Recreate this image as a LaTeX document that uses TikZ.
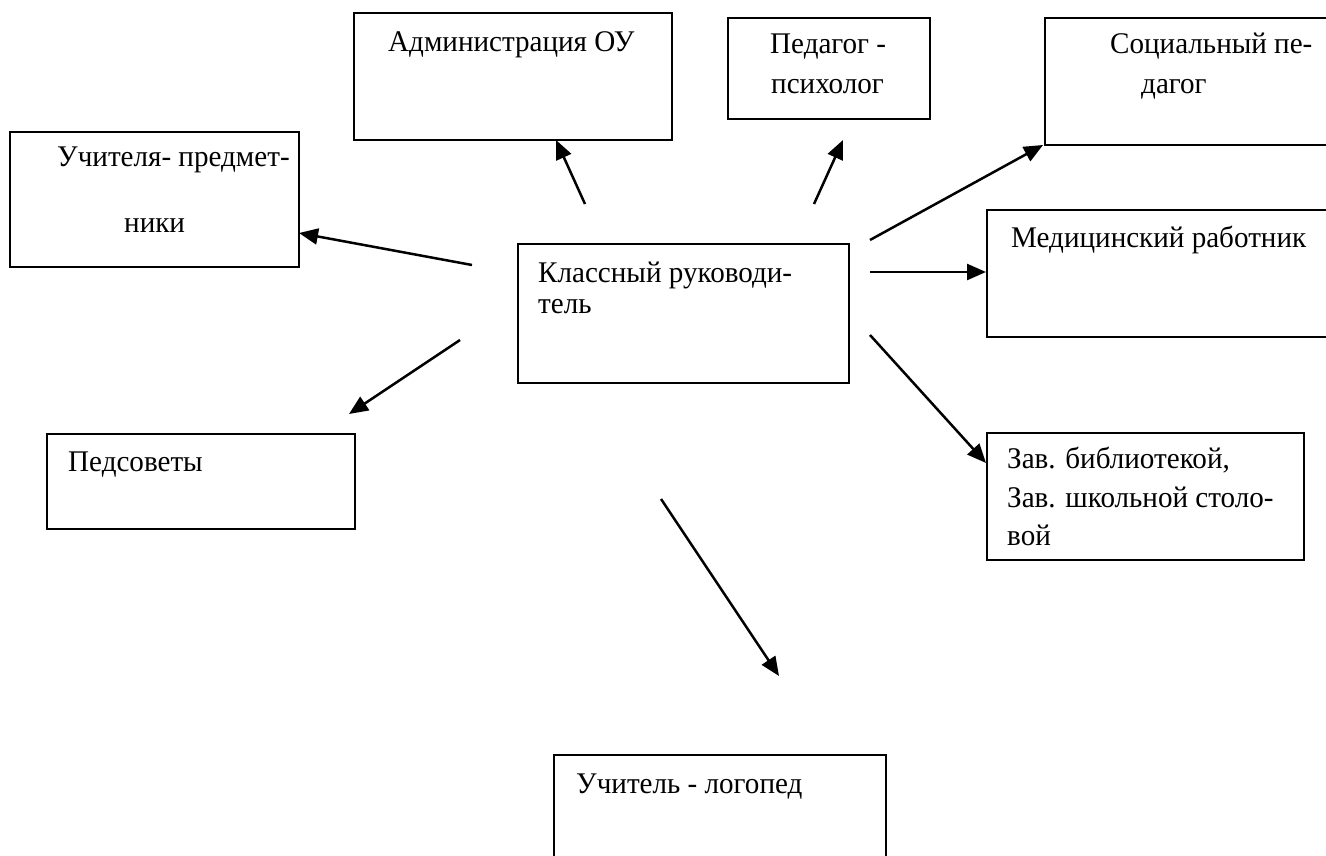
\documentclass[tikz,border=0pt]{standalone}
\usepackage{fontspec}
\setmainfont{Liberation Serif}
\newfontfamily\boxfont[FakeStretch=0.97]{Liberation Serif}
\usetikzlibrary{arrows.meta}
\tikzset{
  box/.style={draw, line width=1.7pt, anchor=north west, inner sep=0pt},
  txt/.style={anchor=base west, inner sep=0pt, font=\boxfont\fontsize{30}{34}\selectfont},
  link/.style={line width=2.5pt, -{Triangle[length=19pt,width=16pt]}}
}
\begin{document}
\begin{tikzpicture}[x=1pt, y=-1pt]
  \useasboundingbox (0,0) rectangle (1326,856);

  % boxes
  \node[box, minimum width=318pt, minimum height=127pt] (adm) at (353,12) {};
  \node[box, minimum width=202pt, minimum height=101pt] (psy) at (727,17) {};
  \node[box, minimum width=320pt, minimum height=127pt] (soc) at (1044,17) {};
  \node[box, minimum width=289pt, minimum height=135pt] (uch) at (9,131) {};
  \node[box, minimum width=331pt, minimum height=139pt] (kr) at (517,243) {};
  \node[box, minimum width=360pt, minimum height=127pt] (med) at (986,209) {};
  \node[box, minimum width=308pt, minimum height=95pt] (ped) at (46,433) {};
  \node[box, minimum width=317pt, minimum height=127pt] (zav) at (986,432) {};
  \node[box, minimum width=332pt, minimum height=150pt] (log) at (553,754) {};

  % texts
  \node[txt] (adm-t) at (388,52) {Администрация ОУ};
  \node[txt] (psy-t1) at (770,54) {Педагог -};
  \node[txt] (psy-t2) at (771,94) {психолог};
  \node[txt] (soc-t1) at (1110,54) {Социальный пе-};
  \node[txt] (soc-t2) at (1141,94) {дагог};
  \node[txt] (uch-t1) at (57,167) {Учителя- предмет-};
  \node[txt] (uch-t2) at (124,233) {ники};
  \node[txt] (kr-t1) at (538,282) {Классный руководи-};
  \node[txt] (kr-t2) at (538,313) {тель};
  \node[txt] (med-t) at (1011,247) {Медицинский работник};
  \node[txt] (ped-t) at (68,471) {Педсоветы};
  \node[txt] (zav-t1) at (1007,468) {Зав. библиотекой,};
  \node[txt] (zav-t2) at (1007,507) {Зав. школьной столо-};
  \node[txt] (zav-t3) at (1007,545) {вой};
  \node[txt] (log-t) at (576,793) {Учитель - логопед};

  % arrows
  \coordinate (adm-from) at (585,204); \coordinate (adm-to) at (556,140);
  \coordinate (psy-from) at (814,204); \coordinate (psy-to) at (843,140);
  \coordinate (soc-from) at (870,240); \coordinate (soc-to) at (1043,145);
  \coordinate (med-from) at (870,272); \coordinate (med-to) at (986,272);
  \coordinate (zav-from) at (870,335); \coordinate (zav-to) at (986,463);
  \coordinate (uch-from) at (472,265); \coordinate (uch-to) at (299,233);
  \coordinate (ped-from) at (460,340); \coordinate (ped-to) at (349,414);
  \coordinate (log-from) at (661,499); \coordinate (log-to) at (779,676);
  \foreach \n in {adm,psy,soc,med,zav,uch,ped,log}
    \draw[link] (\n-from) -- (\n-to);
\end{tikzpicture}
\end{document}
